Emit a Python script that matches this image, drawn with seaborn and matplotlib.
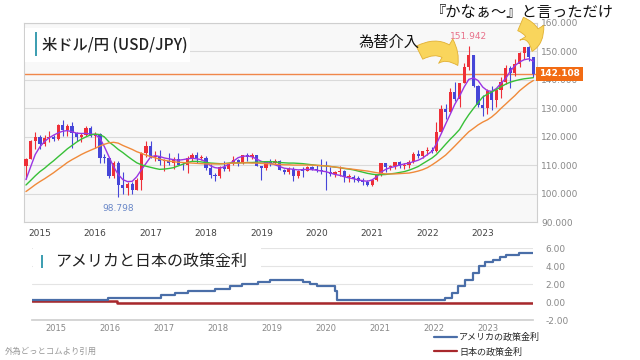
import numpy as np
import pandas as pd
import matplotlib
matplotlib.use('Agg')
import matplotlib.pyplot as plt
import matplotlib.dates as mdates
from matplotlib.patches import Rectangle, FancyArrowPatch
from matplotlib.lines import Line2D
import seaborn as sns

# USD/JPY monthly candles, Oct 2014 - Dec 2023
months = pd.date_range('2014-10-01', '2023-12-01', freq='MS')
opens = [109.6, 112.3, 118.6,
         119.8, 117.5, 119.6, 120.1, 119.4, 124.1, 122.4, 123.9, 121.2, 119.9, 120.6, 123.1,
         120.2, 121.1, 112.7, 112.5, 106.3, 110.7, 103.2, 102.0, 103.4, 101.3, 104.8, 114.5,
         116.9, 112.8, 112.8, 111.4, 111.5, 110.8, 112.4, 110.3, 110.0, 112.5, 113.6, 112.5,
         112.7, 109.2, 106.7, 106.3, 109.3, 108.8, 110.7, 111.9, 111.0, 113.7, 112.9, 113.5,
         109.7, 108.9, 111.4, 110.8, 111.4, 108.3, 107.8, 108.7, 106.3, 108.1, 108.0, 109.5,
         108.7, 108.4, 107.9, 107.5, 106.9, 107.8, 107.9, 105.9, 105.9, 105.5, 104.6, 104.3,
         103.2, 104.7, 106.6, 110.7, 109.3, 109.6, 111.1, 109.7, 110.0, 111.3, 114.0, 113.2,
         115.1, 115.1, 115.0, 121.7, 129.8, 128.7, 135.7, 133.2, 139.0, 144.7, 148.7, 138.0,
         131.1, 130.1, 136.2, 132.8, 136.3, 139.3, 144.3, 142.3, 145.5, 149.4, 151.7, 148.2]
highs = [112.5, 119.0, 121.8,
         120.8, 120.5, 122.0, 120.8, 124.4, 125.9, 124.6, 125.3, 121.7, 121.5, 123.8, 123.7,
         121.7, 121.5, 114.0, 112.6, 111.4, 111.4, 107.5, 104.3, 104.2, 105.5, 114.8, 118.7,
         118.6, 115.0, 115.5, 112.2, 114.4, 112.9, 114.5, 111.1, 113.2, 114.5, 114.7, 113.8,
         113.4, 110.5, 107.3, 109.6, 111.4, 110.9, 113.2, 112.2, 113.7, 114.5, 114.2, 113.8,
         109.9, 111.5, 112.1, 112.4, 112.0, 108.8, 109.3, 109.3, 108.5, 109.3, 109.7, 109.7,
         110.3, 112.2, 111.7, 109.4, 108.0, 109.9, 108.2, 107.1, 106.6, 106.1, 105.7, 104.8,
         105.0, 106.7, 111.0, 111.0, 110.2, 111.1, 111.7, 110.8, 112.0, 114.7, 115.5, 115.2,
         116.4, 116.3, 125.1, 131.3, 131.4, 137.0, 139.4, 139.0, 145.9, 151.942, 148.8, 138.2,
         134.8, 136.9, 137.9, 136.6, 140.9, 145.1, 144.9, 147.4, 149.7, 151.7, 151.9, 148.2]
lows = [105.2, 112.3, 115.6,
        115.9, 116.9, 118.3, 118.5, 118.9, 120.4, 120.4, 116.2, 118.6, 118.1, 120.2, 119.9,
        116.0, 111.0, 110.7, 105.6, 105.5, 98.798, 100.0, 99.5, 100.1, 101.2, 101.2, 112.9,
        112.5, 111.6, 110.1, 108.1, 110.2, 108.8, 110.6, 108.3, 107.3, 111.7, 110.8, 111.9,
        108.3, 105.6, 104.6, 105.7, 108.1, 108.1, 110.3, 109.8, 110.4, 111.4, 112.3, 109.6,
        104.7, 108.5, 109.7, 110.6, 108.3, 106.8, 106.8, 104.5, 105.7, 105.9, 107.9, 108.4,
        107.7, 107.0, 101.2, 106.4, 106.0, 106.1, 104.2, 104.2, 104.0, 104.0, 103.2, 102.9,
        102.6, 104.4, 106.4, 107.5, 108.3, 108.6, 109.1, 108.7, 109.1, 110.8, 112.5, 112.5,
        113.5, 114.2, 114.7, 121.3, 126.4, 128.6, 132.5, 130.4, 138.8, 143.5, 137.5, 130.6,
        127.2, 128.1, 129.6, 130.6, 133.5, 138.4, 137.2, 141.5, 144.4, 147.3, 146.7, 141.0]
closes = [112.3, 118.6, 119.8,
          117.5, 119.6, 120.1, 119.4, 124.1, 122.4, 123.9, 121.2, 119.9, 120.6, 123.1, 120.2,
          121.1, 112.7, 112.5, 106.3, 110.7, 103.2, 102.0, 103.4, 101.3, 104.8, 114.5, 116.9,
          112.8, 112.8, 111.4, 111.5, 110.8, 112.4, 110.3, 110.0, 112.5, 113.6, 112.5, 112.7,
          109.2, 106.7, 106.3, 109.3, 108.8, 110.7, 111.9, 111.0, 113.7, 112.9, 113.5, 109.7,
          108.9, 111.4, 110.8, 111.4, 108.3, 107.8, 108.7, 106.3, 108.1, 108.0, 109.5, 108.7,
          108.4, 107.9, 107.5, 106.9, 107.8, 107.9, 105.9, 105.9, 105.5, 104.6, 104.3, 103.2,
          104.7, 106.6, 110.7, 109.3, 109.6, 111.1, 109.7, 110.0, 111.3, 114.0, 113.2, 115.1,
          115.1, 115.0, 121.7, 129.8, 128.7, 135.7, 133.2, 139.0, 144.7, 148.7, 138.0, 131.1,
          130.1, 136.2, 132.8, 136.3, 139.3, 144.3, 142.3, 145.5, 149.4, 151.7, 148.2, 142.108]

# moving averages
ma_short = [105.0, 109.5, 113.8,
            116.5, 118.4, 119.6, 120.6, 121.4, 122.0, 122.2, 121.8, 121.3, 121.2, 121.2, 121.0,
            120.8, 119.5, 116.6, 113.0, 109.5, 106.8, 105.0, 104.3, 104.4, 106.0, 108.5, 110.7,
            113.0, 113.4, 113.1, 112.6, 112.3, 112.0, 111.8, 112.0, 112.3, 112.5, 112.3, 112.0,
            111.2, 109.8, 109.2, 109.0, 109.5, 110.5, 111.5, 112.7, 113.2, 113.3, 113.0, 112.2,
            111.4, 111.0, 110.8, 110.2, 109.6, 109.0, 108.8, 108.6, 108.4, 108.5, 108.6, 108.5,
            108.3, 108.0, 107.8, 107.3, 106.8, 106.5, 106.0, 105.6, 105.3, 104.9, 104.6, 104.4,
            104.9, 106.0, 107.6, 108.6, 109.2, 109.6, 110.1, 110.5, 110.8, 111.3, 111.8, 112.6,
            113.8, 115.0, 117.5, 121.0, 124.5, 128.0, 131.5, 134.3, 137.6, 140.2, 140.7, 139.8,
            137.5, 136.2, 136.0, 137.0, 138.8, 140.5, 143.0, 145.0, 146.3, 147.1, 147.4, 146.6]
ma_mid = [103.1, 104.7, 106.3,
          107.8, 109.0, 110.3, 111.6, 113.0, 114.4, 115.8, 117.0, 118.2, 119.2, 120.0, 120.7,
          121.0, 120.8, 120.0, 118.2, 117.0, 115.6, 114.5, 113.2, 112.0, 110.9, 110.2, 109.7,
          109.3, 108.9, 108.6, 108.7, 108.9, 109.2, 109.8, 110.4, 111.0, 111.4, 111.4, 111.2,
          111.0, 110.8, 110.7, 110.6, 110.6, 110.8, 110.8, 110.9, 110.9, 111.0, 111.0, 111.1,
          111.2, 111.3, 111.3, 111.2, 111.0, 110.9, 110.8, 110.8, 110.7, 110.6, 110.4, 110.2,
          110.0, 109.9, 109.8, 109.6, 109.4, 109.2, 108.9, 108.7, 108.4, 108.0, 107.6, 107.2,
          106.9, 106.7, 106.7, 106.8, 107.0, 107.2, 107.5, 107.8, 108.3, 108.9, 109.6, 110.6,
          111.6, 112.6, 113.8, 115.6, 117.4, 119.2, 120.8, 122.6, 125.4, 127.8, 130.0, 132.0,
          134.0, 135.0, 135.8, 136.6, 137.6, 138.5, 139.2, 139.7, 140.1, 140.4, 140.6, 140.8]
ma_long = [100.8, 102.0, 103.2,
           104.3, 105.3, 106.3, 107.4, 108.6, 109.8, 111.0, 112.0, 112.9, 113.8, 114.6, 115.3,
           116.0, 116.8, 117.4, 117.9, 118.1, 117.8, 117.0, 116.3, 115.6, 114.8, 114.2, 113.6,
           113.1, 112.6, 112.2, 111.8, 111.5, 111.3, 111.1, 111.0, 110.9, 110.8, 110.7, 110.6,
           110.5, 110.5, 110.5, 110.5, 110.6, 110.7, 110.8, 110.8, 110.9, 110.9, 110.8, 110.8,
           110.7, 110.6, 110.5, 110.4, 110.3, 110.2, 110.2, 110.1, 110.1, 110.1, 110.1, 110.1,
           110.0, 109.9, 109.8, 109.6, 109.4, 109.2, 109.0, 108.8, 108.6, 108.4, 108.2, 108.0,
           107.7, 107.4, 107.2, 107.0, 107.0, 107.0, 107.1, 107.2, 107.3, 107.6, 108.0, 108.5,
           109.2, 110.2, 111.2, 112.4, 113.6, 115.2, 116.8, 118.5, 120.2, 121.8, 123.0, 124.2,
           125.2, 126.0, 127.0, 128.4, 130.0, 131.5, 133.0, 134.5, 136.2, 137.5, 138.8, 139.8]

# policy rates (step changes)
us_dates = ['2014-07-24', '2015-12-17', '2016-12-15', '2017-03-16', '2017-06-15', '2017-12-14',
            '2018-03-22', '2018-06-14', '2018-09-27', '2018-12-20', '2019-08-01', '2019-09-19',
            '2019-10-31', '2020-03-04', '2020-03-16', '2022-03-17', '2022-05-05', '2022-06-16',
            '2022-07-28', '2022-09-22', '2022-11-03', '2022-12-15', '2023-02-02', '2023-03-23',
            '2023-05-04', '2023-07-27', '2023-11-01']
us_rates = [0.25, 0.50, 0.75, 1.00, 1.25, 1.50, 1.75, 2.00, 2.25, 2.50, 2.25, 2.00, 1.75, 1.25,
            0.25, 0.50, 1.00, 1.75, 2.50, 3.25, 4.00, 4.50, 4.75, 5.00, 5.25, 5.50, 5.50]
jp_dates = ['2014-07-24', '2016-02-16', '2023-11-01']
jp_rates = [0.10, -0.10, -0.10]

price_ticks = [90, 100, 110, 120, 130, 140, 150, 160]
rate_ticks = [-2, 0, 2, 4, 6]

UP = '#ee2f38'
DOWN = '#4646d8'
US_C = '#4a6ea8'
JP_C = '#a8282c'

sns.set_theme(style='white')
plt.rcParams['font.family'] = ['Noto Sans CJK JP', 'DejaVu Sans']

fig = plt.figure(figsize=(6.4, 3.6), dpi=100)

# ---- top: candlestick chart ----
ax = fig.add_axes([24/640, 1-222.3/360, (537-24)/640, (222.3-23)/360])
ax.set_facecolor('#f8f8f8')

df = pd.DataFrame({'date': months, 'open': opens, 'high': highs, 'low': lows, 'close': closes,
                   'ma6': ma_short, 'ma12': ma_mid, 'ma24': ma_long})
xnum = mdates.date2num(df['date'])
colors = np.where(df['close'] >= df['open'], UP, DOWN)
ax.vlines(xnum, df['low'], df['high'], colors=colors, lw=0.8, zorder=3)
body = (df['close'] - df['open']).abs().clip(lower=0.35)
ax.bar(xnum, body, bottom=np.minimum(df['open'], df['close']), width=21, color=colors,
       linewidth=0, zorder=4)

sns.lineplot(x=xnum, y=df['ma6'], ax=ax, color='#9b35e3', lw=1.0, zorder=5)
sns.lineplot(x=xnum, y=df['ma12'], ax=ax, color='#38c038', lw=1.0, zorder=5)
sns.lineplot(x=xnum, y=df['ma24'], ax=ax, color='#f08a3a', lw=1.0, zorder=5)

last = closes[-1]
ax.axhline(last, color='#f0874a', lw=1.0, zorder=2)
ax.text(1.004, last, f'{last:.3f}', transform=ax.get_yaxis_transform(), ha='left', va='center',
        color='white', fontsize=6.5, weight='bold', family='DejaVu Sans', zorder=10,
        bbox=dict(boxstyle='square,pad=0.3', fc='#f26b13', ec='none'))

ih = int(np.argmax(highs))
ax.annotate(f'{highs[ih]:.3f}', xy=(xnum[ih], highs[ih]), xytext=(0, 7), textcoords='offset points',
            ha='center', va='center', fontsize=6.5, color='#e8708a', family='DejaVu Sans')
il = int(np.argmin(lows))
ax.annotate(f'{lows[il]:.3f}', xy=(xnum[il], lows[il]), xytext=(0, -8), textcoords='offset points',
            ha='center', va='center', fontsize=6.5, color='#6a88c8', family='DejaVu Sans')

ax.set_xlim(mdates.date2num(pd.Timestamp('2014-09-18')), mdates.date2num(pd.Timestamp('2023-12-25')))
ax.set_ylim(90, 160)
ax.set_yticks(price_ticks)
ax.set_yticklabels([f'{v:.3f}' for v in price_ticks])
ax.yaxis.tick_right()
ax.xaxis.set_major_locator(mdates.YearLocator())
ax.xaxis.set_major_formatter(mdates.DateFormatter('%Y'))
ax.tick_params(axis='y', length=0, pad=3, labelsize=6.5, labelcolor='#888')
ax.tick_params(axis='x', direction='out', length=3, width=0.6, color='#aaa', pad=1.5,
               labelsize=6.5, labelcolor='#444')
for lab in ax.get_xticklabels() + ax.get_yticklabels():
    lab.set_family('DejaVu Sans')
ax.set_xlabel('')
ax.set_ylabel('')
ax.grid(axis='y', color='#dadada', lw=0.8)
ax.grid(axis='x', visible=False)
for s in ax.spines.values():
    s.set_color('#cfcfcf')
    s.set_linewidth(0.8)

# title box
fig.patches.append(Rectangle((25/640, 1-62/360), 165/640, 34/360, transform=fig.transFigure,
                             fc='white', ec='none', zorder=5))
fig.patches.append(Rectangle((35/640, 1-56/360), 2.2/640, 24/360, transform=fig.transFigure,
                             fc='#3f9fb2', ec='none', zorder=6))
fig.text(42/640, 1-45/360, '米ドル/円 (USD/JPY)', fontsize=11, va='center', ha='left',
         color='#222', weight='medium', zorder=7)

# annotations with yellow arrows
fig.text(389/640, 1-42/360, '為替介入', fontsize=11, ha='center', va='center', color='#111', zorder=9)
fig.text(522/640, 1-12/360, '『かなぁ〜』と言っただけ', fontsize=11, ha='center', va='center',
         color='#111', zorder=9)
for a, b in [((417, 54), (459, 68)), ((518, 23), (531, 54))]:
    arr = FancyArrowPatch((a[0]/640, 1-a[1]/360), (b[0]/640, 1-b[1]/360), transform=fig.transFigure,
                          arrowstyle='simple,head_length=0.9,head_width=1.35,tail_width=0.7',
                          mutation_scale=15, connectionstyle='arc3,rad=-0.55',
                          fc='#f9d55c', ec='#e2b032', lw=0.6, zorder=8)
    fig.add_artist(arr)

# ---- bottom: policy rates ----
ax2 = fig.add_axes([32/640, 1-320/360, (533-32)/640, (320-248.3)/360])
rates_us = pd.DataFrame({'date': pd.to_datetime(us_dates), 'rate': us_rates})
rates_jp = pd.DataFrame({'date': pd.to_datetime(jp_dates), 'rate': jp_rates})
sns.lineplot(x=mdates.date2num(rates_jp['date']), y=rates_jp['rate'], ax=ax2, color=JP_C, lw=1.8,
             drawstyle='steps-post')
sns.lineplot(x=mdates.date2num(rates_us['date']), y=rates_us['rate'], ax=ax2, color=US_C, lw=1.6,
             drawstyle='steps-post')
ax2.set_xlim(mdates.date2num(pd.Timestamp('2014-07-24')), mdates.date2num(pd.Timestamp('2023-11-02')))
ax2.set_ylim(-2, 6)
ax2.set_yticks(rate_ticks)
ax2.set_yticklabels([f'{v:.2f}' for v in rate_ticks])
ax2.yaxis.tick_right()
ax2.xaxis.set_major_locator(mdates.YearLocator())
ax2.xaxis.set_major_formatter(mdates.DateFormatter('%Y'))
ax2.tick_params(axis='y', length=0, pad=9, labelsize=6.5, labelcolor='#888')
ax2.tick_params(axis='x', direction='in', length=3, width=0.6, color='#bbb', pad=3,
                labelsize=6, labelcolor='#888')
for lab in ax2.get_xticklabels() + ax2.get_yticklabels():
    lab.set_family('DejaVu Sans')
ax2.set_xlabel('')
ax2.set_ylabel('')
ax2.grid(axis='y', color='#e4e4e4', lw=0.8)
ax2.grid(axis='x', visible=False)
ax2.set_facecolor('white')
for k, s in ax2.spines.items():
    s.set_visible(k == 'bottom')
ax2.spines['bottom'].set_color('#d0d0d0')

fig.patches.append(Rectangle((33/640, 1-276/360), 228/640, 31/360, transform=fig.transFigure,
                             fc='white', ec='none', zorder=5))
fig.patches.append(Rectangle((41/640, 1-268/360), 2.2/640, 13/360, transform=fig.transFigure,
                             fc='#3f9fb2', ec='none', zorder=6))
fig.text(55/640, 1-261.5/360, 'アメリカと日本の政策金利', fontsize=11.5, va='center', ha='left',
         color='#222', zorder=7)

handles = [Line2D([], [], color=US_C, lw=1.6), Line2D([], [], color=JP_C, lw=1.6)]
fig.legend(handles, ['アメリカの政策金利', '日本の政策金利'], loc='upper left',
           bbox_to_anchor=(434/640, 1-333/360), frameon=False, fontsize=6.5, handlelength=2.6,
           handletextpad=0.2, labelspacing=0.55, borderpad=0, borderaxespad=0)

fig.text(5/640, 1-351/360, '外為どっとコムより引用', fontsize=6, va='center', ha='left', color='#999')

fig.savefig('out.png', dpi=100)
